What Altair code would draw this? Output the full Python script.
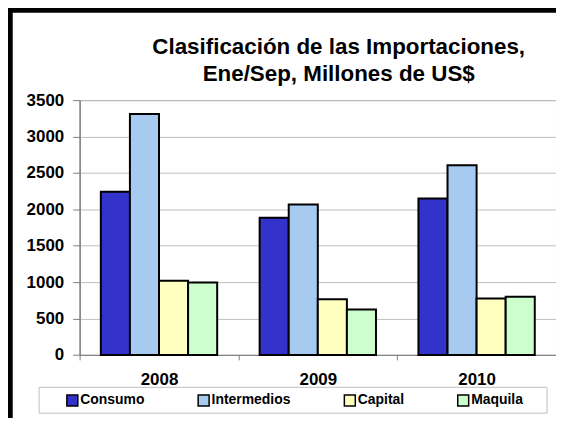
import altair as alt
import pandas as pd

years = ["2008", "2009", "2010"]
categories = ["Consumo", "Intermedios", "Capital", "Maquila"]
consumo = [2240, 1885, 2150]
intermedios = [3310, 2065, 2605]
capital = [1020, 766, 775]
maquila = [995, 624, 800]
colors = ["#3333CC", "#A6CAF0", "#FFFFC0", "#CCFFCC"]
y_ticks = [0, 500, 1000, 1500, 2000, 2500, 3000, 3500]
title_lines = ["Clasificación de las Importaciones,", "Ene/Sep, Millones de US$"]

rows = []
for cat, vals in zip(categories, [consumo, intermedios, capital, maquila]):
    for yr, v in zip(years, vals):
        rows.append({"Año": yr, "Tipo": cat, "Valor": v})
df = pd.DataFrame(rows)

FONT = "Liberation Sans"

bars = alt.Chart(df).mark_bar(stroke="black", strokeWidth=2).encode(
    x=alt.X(
        "Año:N", sort=years,
        scale=alt.Scale(paddingInner=0, paddingOuter=0),
        axis=alt.Axis(title=None, labelAngle=0, tickBand="extent", labelFontSize=17,
                      labelFontWeight="bold", labelFont=FONT, labelColor="black",
                      tickSize=5, labelPadding=12, domainColor="#808080",
                      tickColor="#808080", grid=False),
    ),
    xOffset=alt.XOffset("Tipo:N", sort=categories,
                        scale=alt.Scale(paddingInner=0, paddingOuter=0.73)),
    y=alt.Y(
        "Valor:Q",
        scale=alt.Scale(domain=[0, 3500], nice=False),
        axis=alt.Axis(title=None, values=y_ticks, format="d", labelFontSize=17,
                      labelFontWeight="bold", labelFont=FONT, labelColor="black",
                      tickSize=7, labelPadding=9, domainColor="#707070",
                      tickColor="#808080", gridColor="#c0c0c0"),
    ),
    color=alt.Color(
        "Tipo:N", sort=categories,
        scale=alt.Scale(domain=categories, range=colors),
        legend=alt.Legend(orient="none", legendX=-14.3, legendY=294.8, direction="horizontal",
                          title=None, symbolType="square", symbolSize=121,
                          symbolStrokeColor="black", symbolStrokeWidth=1.5,
                          labelFont=FONT, labelFontSize=14, labelFontWeight="bold",
                          labelColor="black", columnPadding=50, padding=0, labelOffset=1),
    ),
)

one = alt.Data(values=[{"k": 0}])
border_top = alt.Chart(one).mark_rule(color="black", strokeWidth=5.5).encode(
    x=alt.value(-72.75), x2=alt.value(480), y=alt.value(-90.5))
border_left = alt.Chart(one).mark_rule(color="black", strokeWidth=5.5).encode(
    x=alt.value(-70), y=alt.value(-93.25), y2=alt.value(330))
legend_box = alt.Chart(one).mark_rect(fillOpacity=0, stroke="#c0c0c0", strokeWidth=1).encode(
    x=alt.value(-40.7), x2=alt.value(470), y=alt.value(288.8), y2=alt.value(314.8))

chart = alt.layer(bars, legend_box, border_top, border_left).properties(
    width=479, height=256.2,
    padding={"left": 72, "top": 91.5, "right": 0, "bottom": 62},
    autosize=alt.AutoSizeParams(type="none"),
    title=alt.Title(title_lines, fontSize=22.5, font=FONT, fontWeight="bold", color="black",
                    anchor="middle", dx=21, dy=85, lineHeight=26.7),
).configure_view(stroke="#808080", strokeWidth=1)

chart.save("out.html", embed_options={"renderer": "svg", "actions": False})
